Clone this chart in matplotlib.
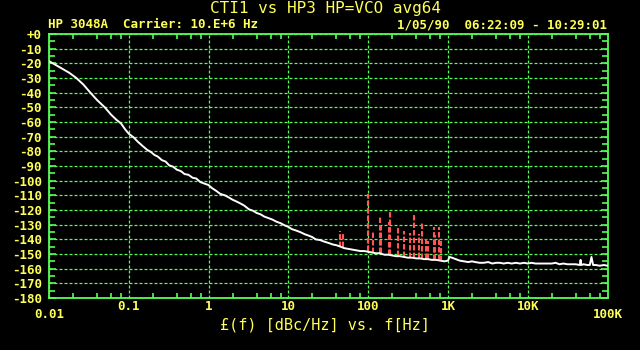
import numpy as np
import matplotlib
matplotlib.use("Agg")
import matplotlib.pyplot as plt
from matplotlib.ticker import LogLocator, NullFormatter, FixedLocator

# ---------------- data ----------------
freq_hz = [
    0.010, 0.0125, 0.015, 0.018, 0.022, 0.027, 0.033, 0.040, 0.050, 0.060, 0.070, 0.080, 0.090, 0.100,
    0.115, 0.13, 0.15, 0.17, 0.19, 0.21, 0.23, 0.26, 0.29, 0.32, 0.36, 0.40, 0.45, 0.50, 0.56, 0.63,
    0.70, 0.79, 0.89, 1.0,
    1.1, 1.25, 1.4, 1.6, 1.8, 2.0, 2.2, 2.5, 2.8, 3.2, 3.6, 4.0, 4.5, 5.0, 5.6, 6.3, 7.1, 8.0, 9.0, 10,
    11, 12.5, 14, 16, 18, 20, 22, 25, 28, 32, 36, 40, 45, 50, 56, 63, 71, 80, 90, 100,
    112, 125, 140, 160, 180, 200, 224, 250, 280, 315, 355, 400, 450, 500, 560, 630, 710, 800, 900,
    1000, 1050, 1120, 1250, 1400, 1600, 1800, 2000, 2200, 2500, 2800, 3200, 3600, 4000, 4500, 5000,
    5600, 6300, 7100, 8000, 9000, 10000, 11200, 12500, 14000, 16000, 18000, 20000, 22400, 25000,
    28000, 31500, 35500, 40000, 45000, 46000, 47000, 50000, 56000, 60000, 63000, 66000, 71000,
    80000, 90000, 100000,
]
level_dbc = [
    -18.5, -21.5, -24, -26.5, -30, -34.5, -40, -45, -50, -55, -58.5, -61, -65, -68,
    -70.5, -73.5, -76.5, -79, -80.5, -82.5, -83.5, -86, -87, -89.5, -90.5, -92.5, -93.5, -95.5, -96, -98,
    -98.5, -101, -102, -103,
    -105, -107, -109, -110, -111.5, -113, -114, -115.5, -117, -119.5, -120.5, -122, -123, -124.5, -125.5,
    -126.5, -128, -129, -130.5, -131.5,
    -133, -134, -135, -136.5, -137.5, -138.5, -140, -140.5, -141.5, -142.5, -143.5, -144, -145, -146,
    -146.5, -147, -147.5, -148, -148, -148.5,
    -149, -149.5, -149.5, -150.5, -150.5, -151, -151.5, -151.5, -152, -152.5, -152.5, -153, -153,
    -153.5, -153.5, -154, -154, -154.5, -155,
    -154.5, -152, -152.5, -153.5, -154.5, -155, -155.5, -155, -155.5, -156, -156, -155.5, -156.5,
    -156, -156, -156.5,
    -156, -156.5, -156, -156.5, -156, -156.5, -156, -156.5, -156.5, -156.5, -156.5, -156.5, -156, -157,
    -156.5, -157, -157, -157, -157.5, -154, -157.5, -157, -157.5, -157.5, -152, -157.5, -157.5,
    -158, -157.5, -158,
]

spur_freq_hz = [45, 48, 100, 115, 140, 145, 182, 190, 235, 280, 330, 380, 430, 480, 530, 565, 660, 690, 765, 810]
spur_peak_dbc = [-134, -135, -109, -134, -125, -131, -128.5, -120, -131, -134, -135.5, -123, -136.5, -129,
                 -140, -141, -131.5, -137, -131.5, -141]
spur_base_dbc = [-145, -145.5, -148, -149, -149.5, -149.5, -150.5, -150.5, -151.5, -152, -152.5, -153,
                 -153, -153.5, -153.5, -153.5, -154, -154, -154, -154.5]

x_tick_pos = [0.01, 0.1, 1, 10, 100, 1000, 10000, 100000]
x_tick_labels = ["0.01", "0.1", "1", "10", "100", "1K", "10K", "100K"]
y_tick_pos = list(range(0, -181, -10))
y_tick_labels = ["+0"] + [str(v) for v in y_tick_pos[1:]]

title = "CTI1 vs HP3 HP=VCO avg64"
sub_left = "HP 3048A  Carrier: 10.E+6 Hz"
sub_right = "1/05/90  06:22:09 - 10:29:01"
xlabel = "£(f) [dBc/Hz] vs. f[Hz]"

# ---------------- style ----------------
GREEN = "#55ff55"
YELLOW = "#ffff55"
RED = "#ff5555"
MONO = "DejaVu Sans Mono"

W, H = 640, 350
fig = plt.figure(figsize=(6.4, 3.5), dpi=100, facecolor="black")
ax_l, ax_r, ax_t, ax_b = 49, 607.5, 34, 298
ax = fig.add_axes([ax_l / W, (H - ax_b) / H, (ax_r - ax_l) / W, (ax_b - ax_t) / H])
ax.set_facecolor("black")

ax.set_xscale("log")
ax.set_xlim(0.01, 100000)
ax.set_ylim(-180, 0)

# grid
ax.xaxis.set_major_locator(FixedLocator(x_tick_pos))
ax.xaxis.set_minor_locator(LogLocator(base=10, subs=[2, 4, 6, 8], numticks=20))
ax.xaxis.set_minor_formatter(NullFormatter())
ax.set_yticks(y_tick_pos)
ax.set_yticklabels(y_tick_labels)
ax.set_yticks(list(range(-175, 0, 10)), minor=True)
ax.grid(True, which="major", color=GREEN, linestyle=(0, (2.4, 1.6)), linewidth=0.9)

for s in ax.spines.values():
    s.set_color(GREEN)
    s.set_linewidth(1.3)

ax.tick_params(axis="y", which="both", direction="in", left=True, right=True, color=GREEN, width=1.2)
ax.tick_params(axis="y", which="major", length=5, pad=5, labelcolor=YELLOW,
               labelsize=9)
ax.tick_params(axis="y", which="minor", length=4.5)
ax.tick_params(axis="x", which="major", length=0, labelbottom=False)
ax.tick_params(axis="x", which="minor", direction="in", top=True, bottom=True, length=3.6,
               color=GREEN, width=1.2)
for lab in ax.get_yticklabels():
    lab.set_fontfamily(MONO)
    lab.set_fontweight("bold")

# x tick labels (ends staggered lower)
xt = ax.get_xaxis_transform()
for i, (p, lab) in enumerate(zip(x_tick_pos, x_tick_labels)):
    ybase = 317.7 if i in (0, len(x_tick_pos) - 1) else 310
    ax.text(p, -(ybase - ax_b) / (ax_b - ax_t), lab, transform=xt, ha="center", va="baseline",
            color=YELLOW, fontsize=9, fontfamily=MONO, fontweight="bold", clip_on=False)

# data
ax.vlines(spur_freq_hz, spur_base_dbc, spur_peak_dbc, colors=RED, linestyles=(0, (2.6, 1.0)),
          linewidth=1.5, zorder=3)
ax.plot(freq_hz, level_dbc, color="white", linewidth=1.4, zorder=4)

# texts
fig.text(326 / W, 1 - 13.3 / H, title, ha="center", va="baseline", color=YELLOW,
         fontsize=11.5, fontfamily=MONO)
fig.text(47.7 / W, 1 - 28 / H, sub_left, ha="left", va="baseline", color=YELLOW,
         fontsize=9, fontfamily=MONO, fontweight="bold")
fig.text(607 / W, 1 - 28 / H, sub_right, ha="right", va="baseline", color=YELLOW,
         fontsize=9, fontfamily=MONO, fontweight="bold")
fig.text(325 / W, 1 - 329.5 / H, xlabel, ha="center", va="baseline", color=YELLOW,
         fontsize=11, fontfamily=MONO)

fig.savefig("out.png", dpi=100, facecolor="black")
